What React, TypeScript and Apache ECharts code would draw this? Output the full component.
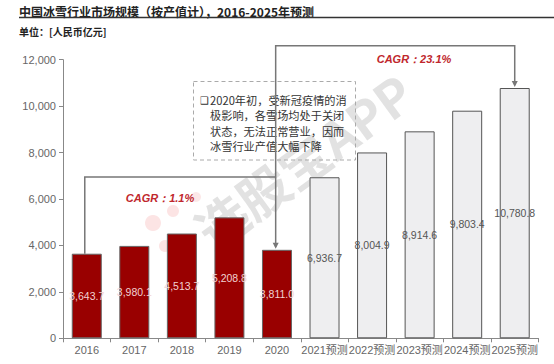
import React, { useEffect, useRef } from "react";
import * as echarts from "echarts";

const categories = ["2016", "2017", "2018", "2019", "2020", "2021预测", "2022预测", "2023预测", "2024预测", "2025预测"];
const marketValues = [3643.7, 3980.1, 4513.7, 5208.8, 3811.0, 6936.7, 8004.9, 8914.6, 9803.4, 10780.8];
const actualCount = 5;
const yTicks = { min: 0, max: 12000, interval: 2000 };
const titleText = "中国冰雪行业市场规模（按产值计），2016-2025年预测";
const unitText = "单位：[人民币亿元]";
const cagrLeft = "CAGR：1.1%";
const cagrRight = "CAGR：23.1%";
const noteLines = ["2020年初，受新冠疫情的消", "极影响，各雪场均处于关闭", "状态，无法正常营业，因而", "冰雪行业产值大幅下降"];

const fmt = new Intl.NumberFormat("en-US", { minimumFractionDigits: 1, maximumFractionDigits: 1 });
const fmtInt = new Intl.NumberFormat("en-US");

const CJK = "Arial, 'Liberation Sans', 'Noto Sans CJK SC', sans-serif";

export default function App() {
  const ref = useRef<HTMLDivElement>(null);
  useEffect(() => {
    if (!ref.current) return;
    const chart = echarts.init(ref.current, undefined, { renderer: "svg" });
    const option: any = {
      animation: false,
      grid: { left: 63, right: 15.5, top: 59.7, bottom: 25.7 },
      xAxis: {
        type: "category",
        data: categories,
        axisLine: { lineStyle: { color: "#888", width: 1 } },
        axisTick: { show: true, length: 4, lineStyle: { color: "#888" } },
        axisLabel: { color: "#666", fontSize: 11, fontFamily: CJK, margin: 6, interval: 0 },
      },
      yAxis: {
        type: "value",
        min: yTicks.min,
        max: yTicks.max,
        interval: yTicks.interval,
        axisLine: { show: true, lineStyle: { color: "#888", width: 1 } },
        axisTick: { show: true, length: 4, lineStyle: { color: "#888" } },
        splitLine: { show: false },
        axisLabel: { color: "#666", fontSize: 11, fontFamily: CJK, margin: 7, formatter: (v: number) => fmtInt.format(v) },
      },
      series: [
        {
          type: "bar",
          z: 3,
          barWidth: 30,
          data: marketValues.map((v, i) => {
            const actual = i < actualCount;
            return {
              value: v,
              itemStyle: {
                color: actual ? "#990000" : "#eeeef0",
                borderColor: actual ? "#666" : "#555",
                borderWidth: 1,
              },
              label: { color: actual ? "#f2d2d2" : "#555" },
            };
          }),
          label: {
            show: true,
            position: "inside",
            fontSize: 10.5,
            fontFamily: "Arial, 'Liberation Sans', sans-serif",
            formatter: (p: any) => fmt.format(p.value),
          },
        },
      ],
    };
    chart.setOption(option);

    const px = (i: number, v: number) => chart.convertToPixel({ seriesIndex: 0 }, [i, v]) as number[];
    const p2016 = px(0, marketValues[0]);
    const p2020 = px(actualCount - 1, marketValues[actualCount - 1]);
    const pLast = px(marketValues.length - 1, marketValues[marketValues.length - 1]);
    const lowY = 177;
    const highY = 45.7;
    const lx = p2016[0] - 2;
    const mx = p2020[0] - 1.3;
    const rx = pLast[0];
    const lineStyle = { stroke: "#777", lineWidth: 1.5, fill: null };
    const arrow = (x: number, y: number) => ({
      type: "polygon",
      shape: { points: [[x - 3, y - 6], [x + 3, y - 6], [x, y]] },
      style: { fill: "#777" },
      z: 10,
    });

    const graphic: any[] = [
      { type: "text", left: 19, top: 5, style: { text: titleText, font: "bold 12px 'Noto Sans CJK SC', sans-serif", fill: "#222" } },
      { type: "line", shape: { x1: 19, y1: 17.5, x2: 554, y2: 17.5 }, style: { stroke: "#333", lineWidth: 1.5 } },
      { type: "text", left: 19, top: 26, style: { text: unitText, font: "bold 10px 'Noto Sans CJK SC', sans-serif", fill: "#222" } },
      // watermark (behind the bars)
      {
        type: "text",
        x: 303,
        y: 160,
        rotation: 0.63,
        style: {
          text: "选股宝APP",
          font: "bold 51px 'Noto Sans CJK SC', sans-serif",
          fill: "rgba(160,160,160,0.3)",
          align: "center",
          verticalAlign: "middle",
        },
        z: 1,
      },
      { type: "circle", shape: { cx: 153, cy: 223, r: 8 }, style: { fill: "rgba(240,120,120,0.2)" }, z: 1 },
      { type: "circle", shape: { cx: 173, cy: 211, r: 6 }, style: { fill: "rgba(240,120,120,0.2)" }, z: 1 },
      { type: "circle", shape: { cx: 196, cy: 197, r: 5 }, style: { fill: "rgba(240,120,120,0.17)" }, z: 1 },
      { type: "circle", shape: { cx: 165, cy: 246, r: 6 }, style: { fill: "rgba(240,120,120,0.2)" }, z: 1 },
      // brackets
      { type: "polyline", shape: { points: [[lx, p2016[1]], [lx, lowY], [mx, lowY]] }, style: lineStyle, z: 10 },
      { type: "polyline", shape: { points: [[mx, p2020[1] - 3], [mx, highY], [rx, highY], [rx, pLast[1] - 3]] }, style: lineStyle, z: 10 },
      arrow(mx, p2020[1] - 1),
      arrow(rx, pLast[1] - 1),
      {
        type: "text",
        x: 160,
        y: 197.5,
        style: { text: cagrLeft, font: "italic bold 11px Arial, 'Liberation Sans', sans-serif", fill: "#c0272d", align: "center", verticalAlign: "middle" },
        z: 10,
      },
      {
        type: "text",
        x: 414,
        y: 58.5,
        style: { text: cagrRight, font: "italic bold 11px Arial, 'Liberation Sans', sans-serif", fill: "#c0272d", align: "center", verticalAlign: "middle" },
        z: 10,
      },
      // note box
      {
        type: "rect",
        shape: { x: 193.5, y: 81.5, width: 162, height: 78.5 },
        style: { fill: null, stroke: "#aaa", lineWidth: 1, lineDash: [4, 3] },
        z: 5,
      },
      {
        type: "text",
        x: 200,
        y: 100,
        style: { text: "❑", font: "10px 'DejaVu Sans', sans-serif", fill: "#333", verticalAlign: "middle" },
        z: 6,
      },
      ...noteLines.map((t, i) => ({
        type: "text",
        x: 210,
        y: 100 + i * 15.4,
        style: { text: t, font: "11.2px 'Noto Sans CJK SC', sans-serif", fill: "#333", verticalAlign: "middle" },
        z: 6,
      })),
    ];
    chart.setOption({ graphic });
    return () => chart.dispose();
  }, []);
  return <div ref={ref} style={{ position: "absolute", left: 0, top: 0, width: 554, height: 364, background: "#fff" }} />;
}
